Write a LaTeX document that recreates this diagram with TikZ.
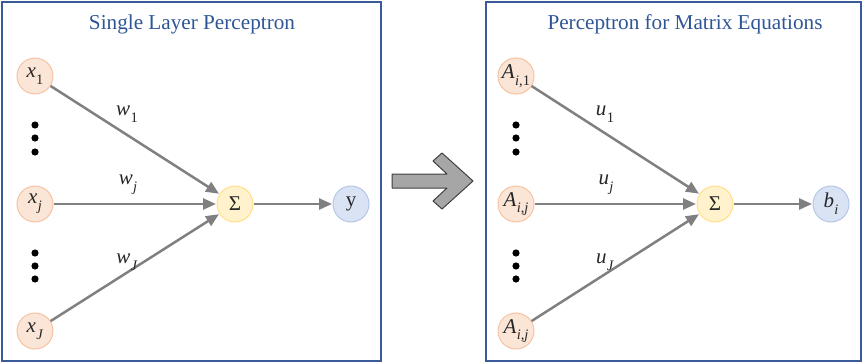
\documentclass[tikz,border=0pt]{standalone}
\usepackage{fontspec}
\setmainfont{Liberation Serif}
\usetikzlibrary{arrows.meta}
\definecolor{frameC}{HTML}{3A5A9C}
\definecolor{titleC}{HTML}{2F5597}
\definecolor{inF}{HTML}{FBE5D6}
\definecolor{inD}{HTML}{F6C3A3}
\definecolor{sumF}{HTML}{FFF2CC}
\definecolor{sumD}{HTML}{FFE08A}
\definecolor{outF}{HTML}{DAE3F3}
\definecolor{outD}{HTML}{B4C7E7}
\definecolor{edgeC}{HTML}{808080}
\definecolor{txtC}{HTML}{262626}
\newcommand\sbx[2]{#1\kern0.3pt\raisebox{-0.32em}{\fontsize{14.5}{15}\selectfont #2}}
\tikzset{
  panel/.style={draw=frameC, line width=2.8pt},
  ptitle/.style={text=titleC, font=\fontsize{21.2}{24}\selectfont, inner sep=0pt},
  neuron/.style={circle, minimum size=36pt, inner sep=0pt, line width=1pt, text=txtC, font=\fontsize{21}{24}\selectfont},
  inode/.style={neuron, fill=inF, draw=inD},
  snode/.style={neuron, fill=sumF, draw=sumD},
  onode/.style={neuron, fill=outF, draw=outD},
  conn/.style={draw=edgeC, line width=2.5pt, -{Triangle[length=13pt,width=11pt]}, shorten >=0.5pt},
  wlabel/.style={text=txtC, font=\fontsize{21}{24}\selectfont, inner sep=0pt},
  bigarrow/.style={fill=black!35, draw=black!75, line width=1pt, line join=round},
}
\begin{document}
\begin{tikzpicture}[x=1pt,y=-1pt]
\useasboundingbox (0,0) rectangle (863,364);
% panels
\draw[panel] (2,2) rectangle (381,361);
\draw[panel] (486,2) rectangle (861,361);
\node[ptitle] (t1) at (192,24) {Single Layer Perceptron};
\node[ptitle] (t2) at (685,24) {Perceptron for Matrix Equations};
% left network
\node[inode] (x1) at (35,76) {\sbx{\textit{x}}{1}};
\node[inode] (xj) at (35,204) {\sbx{\textit{x}}{\textit{j}}};
\node[inode] (xJ) at (35,331) {\sbx{\textit{x}}{\textit{J}}};
\node[snode] (s1) at (235,204) {Σ};
\node[onode] (y1) at (351,204) {y};
\draw[conn] (x1) -- (s1);
\draw[conn] (xj) -- (s1);
\draw[conn] (xJ) -- (s1);
\draw[conn] (s1) -- (y1);
\node[wlabel] (w1) at (127,114) {\sbx{\textit{w}}{1}};
\node[wlabel] (wj) at (128,185) {\sbx{\textit{w}}{\textit{j}}};
\node[wlabel] (wJ) at (127,262) {\sbx{\textit{w}}{\textit{J}}};
\foreach \yy in {125,138,152,253,266,279} \fill (35,\yy) circle (3.6);
% right network
\node[inode] (a1) at (516,76) {\sbx{\textit{A}}{\textit{i},1}};
\node[inode] (aj) at (516,204) {\sbx{\textit{A}}{\textit{i},\textit{j}}};
\node[inode] (aJ) at (516,331) {\sbx{\textit{A}}{\textit{i},\textit{j}}};
\node[snode] (s2) at (715,204) {Σ};
\node[onode] (b) at (831,204) {\sbx{\textit{b}}{\textit{i}}};
\draw[conn] (a1) -- (s2);
\draw[conn] (aj) -- (s2);
\draw[conn] (aJ) -- (s2);
\draw[conn] (s2) -- (b);
\node[wlabel] (u1) at (605,114) {\sbx{\textit{u}}{1}};
\node[wlabel] (uj) at (606,185) {\sbx{\textit{u}}{\textit{j}}};
\node[wlabel] (uJ) at (605,262) {\sbx{\textit{u}}{\textit{J}}};
\foreach \yy in {125,138,152,253,266,279} \fill (516,\yy) circle (3.6);
% big arrow
\draw[bigarrow] (392,174) -- (447,174) -- (433,161) -- (442,153) -- (473,181)
  -- (442,209) -- (433,201) -- (447,188) -- (392,188) -- cycle;
\end{tikzpicture}
\end{document}
